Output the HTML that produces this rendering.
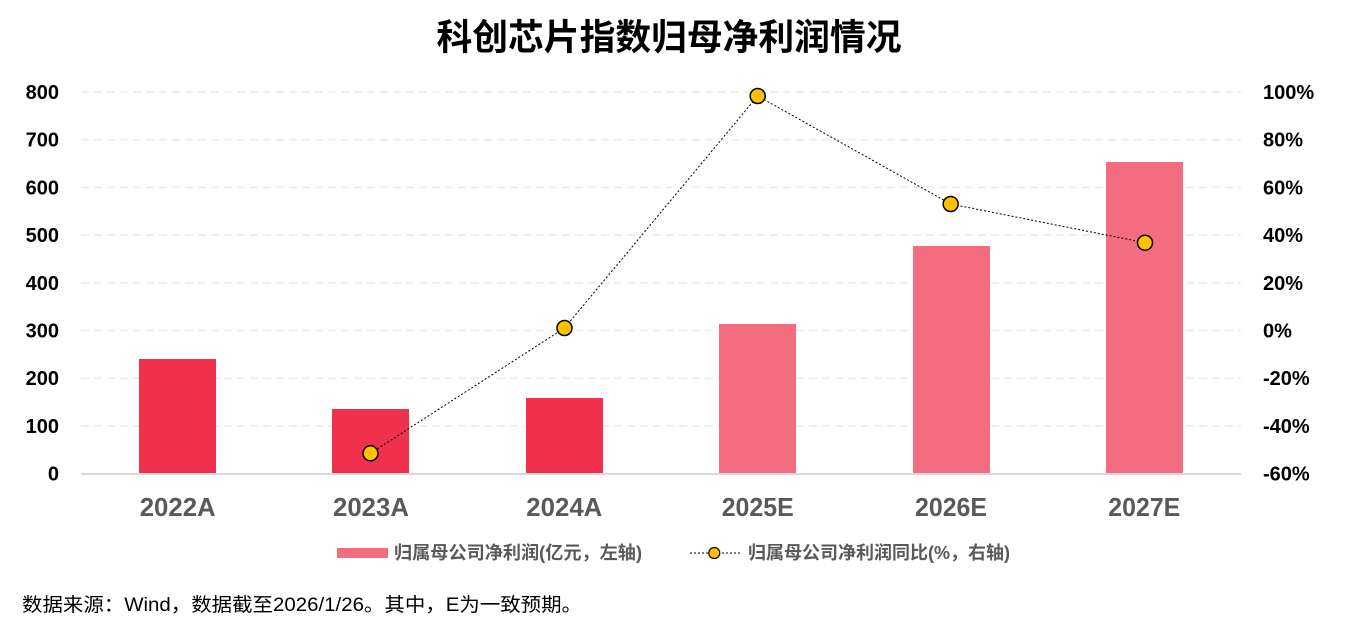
<!DOCTYPE html>
<html>
<head>
<meta charset="utf-8">
<style>
  html, body { margin: 0; padding: 0; background: #ffffff; }
  body { width: 1347px; height: 642px; overflow: hidden; }
  svg { display: block; }
  .cjk { font-family: "Liberation Sans", "Noto Sans CJK SC", sans-serif; }
</style>
</head>
<body>
<svg width="1347" height="642" viewBox="0 0 1347 642" xmlns="http://www.w3.org/2000/svg">
  <rect x="0" y="0" width="1347" height="642" fill="#ffffff"/>

  <!-- Title -->
  <text x="669" y="37" text-anchor="middle" dominant-baseline="central" class="cjk" font-size="36" font-weight="bold" fill="#000000" textLength="465" lengthAdjust="spacingAndGlyphs">科创芯片指数归母净利润情况</text>

  <!-- Gridlines -->
  <g stroke="#EFEFEF" stroke-width="2" stroke-dasharray="8,5">
    <line x1="81" y1="92" x2="1241" y2="92"/>
    <line x1="81" y1="139.7" x2="1241" y2="139.7"/>
    <line x1="81" y1="187.4" x2="1241" y2="187.4"/>
    <line x1="81" y1="235.1" x2="1241" y2="235.1"/>
    <line x1="81" y1="282.8" x2="1241" y2="282.8"/>
    <line x1="81" y1="330.5" x2="1241" y2="330.5"/>
    <line x1="81" y1="378.2" x2="1241" y2="378.2"/>
    <line x1="81" y1="425.9" x2="1241" y2="425.9"/>
  </g>

  <!-- Bars -->
  <rect x="139" y="359" width="77" height="114" fill="#EF314B"/>
  <rect x="332" y="409" width="77" height="64" fill="#EF314B"/>
  <rect x="526" y="398" width="77" height="75" fill="#EF314B"/>
  <rect x="719" y="324" width="77" height="149" fill="#F46C7F"/>
  <rect x="913" y="246" width="77" height="227" fill="#F46C7F"/>
  <rect x="1106" y="162" width="77" height="311" fill="#F46C7F"/>

  <!-- Axis line -->
  <line x1="81" y1="474" x2="1241" y2="474" stroke="#D9D9D9" stroke-width="2"/>

  <!-- Left axis labels -->
  <g font-family="Liberation Sans, sans-serif" font-size="20" font-weight="bold" fill="#000000" text-anchor="end">
    <text x="59" y="99">800</text>
    <text x="59" y="146.7">700</text>
    <text x="59" y="194.4">600</text>
    <text x="59" y="242.1">500</text>
    <text x="59" y="289.8">400</text>
    <text x="59" y="337.5">300</text>
    <text x="59" y="385.2">200</text>
    <text x="59" y="432.9">100</text>
    <text x="59" y="480.6">0</text>
  </g>

  <!-- Right axis labels -->
  <g font-family="Liberation Sans, sans-serif" font-size="20" font-weight="bold" fill="#000000" text-anchor="start">
    <text x="1263" y="99">100%</text>
    <text x="1263" y="146.7">80%</text>
    <text x="1263" y="194.4">60%</text>
    <text x="1263" y="242.1">40%</text>
    <text x="1263" y="289.8">20%</text>
    <text x="1263" y="337.5">0%</text>
    <text x="1263" y="385.2">-20%</text>
    <text x="1263" y="432.9">-40%</text>
    <text x="1263" y="480.6">-60%</text>
  </g>

  <!-- X labels -->
  <g font-family="Liberation Sans, sans-serif" font-size="26" font-weight="bold" fill="#595959" text-anchor="middle">
    <text x="177.7" y="516" textLength="76" lengthAdjust="spacingAndGlyphs">2022A</text>
    <text x="371" y="516" textLength="76" lengthAdjust="spacingAndGlyphs">2023A</text>
    <text x="564.3" y="516" textLength="76" lengthAdjust="spacingAndGlyphs">2024A</text>
    <text x="757.7" y="516" textLength="72" lengthAdjust="spacingAndGlyphs">2025E</text>
    <text x="951" y="516" textLength="72" lengthAdjust="spacingAndGlyphs">2026E</text>
    <text x="1144.3" y="516" textLength="72" lengthAdjust="spacingAndGlyphs">2027E</text>
  </g>

  <!-- Line series -->
  <polyline points="370.5,453.3 564.5,328 757.7,96 950.7,204 1145,242.7" fill="none" stroke="#000000" stroke-width="1" stroke-dasharray="2,2"/>
  <g fill="#FFC000" stroke="#000000" stroke-width="1.5">
    <circle cx="370.5" cy="453.3" r="7.5"/>
    <circle cx="564.5" cy="328" r="7.5"/>
    <circle cx="757.7" cy="96" r="7.5"/>
    <circle cx="950.7" cy="204" r="7.5"/>
    <circle cx="1145" cy="242.7" r="7.5"/>
  </g>

  <!-- Legend -->
  <rect x="337" y="548" width="51" height="10" fill="#F46C7F"/>
  <text x="394" y="553" dominant-baseline="central" class="cjk" font-size="18" font-weight="bold" fill="#595959" textLength="248" lengthAdjust="spacingAndGlyphs">归属母公司净利润(亿元，左轴)</text>

  <line x1="690" y1="553" x2="740" y2="553" stroke="#000000" stroke-width="1" stroke-dasharray="2,2"/>
  <circle cx="714.3" cy="553" r="5.5" fill="#FFC000" stroke="#000000" stroke-width="1.2"/>
  <text x="748" y="553" dominant-baseline="central" class="cjk" font-size="18" font-weight="bold" fill="#595959" textLength="262" lengthAdjust="spacingAndGlyphs">归属母公司净利润同比(%，右轴)</text>

  <!-- Footnote -->
  <text x="22" y="605.5" dominant-baseline="central" class="cjk" font-size="19" fill="#000000" textLength="560" lengthAdjust="spacingAndGlyphs">数据来源：Wind，数据截至2026/1/26。其中，E为一致预期。</text>
</svg>
</body>
</html>
